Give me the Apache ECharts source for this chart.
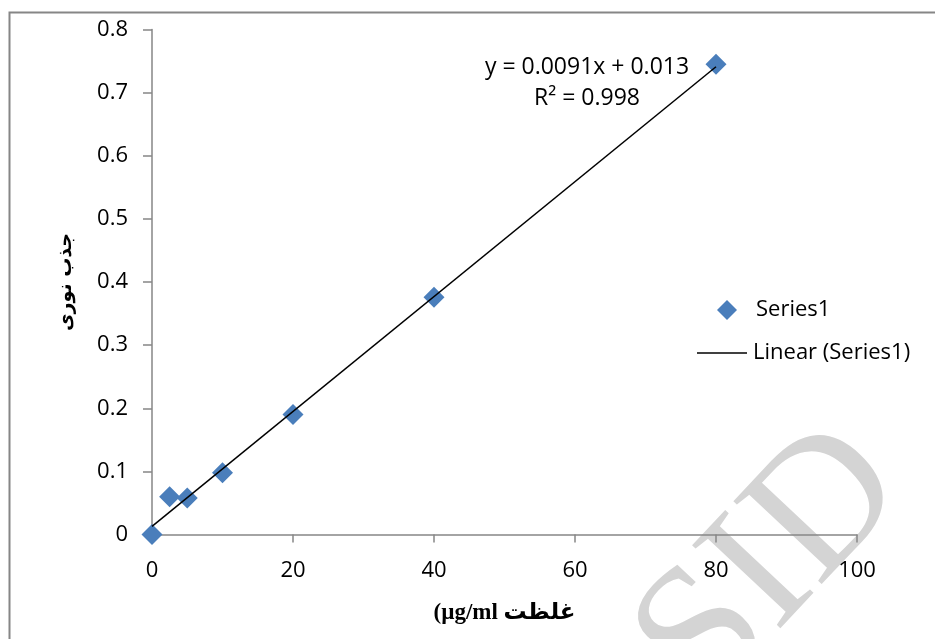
<!DOCTYPE html>
<html>
<head>
<meta charset="utf-8">
<script src="https://cdn.jsdelivr.net/npm/echarts@6/dist/echarts.min.js"></script>
<style>
  html, body { margin: 0; padding: 0; background: #fff; }
  #chart { width: 935px; height: 639px; }
</style>
</head>
<body>
<div id="chart"></div>
<script>
// Calibration points: concentration (µg/ml) vs absorbance
const concentration = [0, 2.5, 5, 10, 20, 40, 80];
const absorbance = [0, 0.06, 0.058, 0.098, 0.19, 0.376, 0.745];

// Linear trend line as reported on the chart
const slope = 0.0091;
const intercept = 0.013;
const rSquared = 0.998;
const trendRange = [0, 80];

const xTicks = { min: 0, max: 100, interval: 20 };
const yTicks = { min: 0, max: 0.8, interval: 0.1 };

const axisGray = '#868686';
const markerBlue = '#4A7EBB';
const labelFont = "'Open Sans', 'DejaVu Sans', sans-serif";

const points = concentration.map((x, i) => [x, absorbance[i]]);
const trendPoints = trendRange.map(x => [x, slope * x + intercept]);

const chart = echarts.init(document.getElementById('chart'), null, { renderer: 'canvas' });

chart.setOption({
  backgroundColor: '#ffffff',
  animation: false,
  grid: { left: 152, right: 78, top: 29.5, bottom: 104.5 },
  xAxis: {
    type: 'value',
    min: xTicks.min, max: xTicks.max, interval: xTicks.interval,
    // left-to-right mark keeps the opening parenthesis on the left
    name: '\u200E(µg/ml غلظت',
    nameLocation: 'middle',
    nameGap: 67,
    nameTextStyle: {
      fontFamily: "'Liberation Serif', 'DejaVu Sans', serif",
      fontWeight: 'bold', fontSize: 23, color: '#000'
    },
    axisLine: { show: true, lineStyle: { color: axisGray, width: 1.5 } },
    axisTick: { show: true, length: 8, lineStyle: { color: axisGray, width: 1.5 } },
    axisLabel: { fontFamily: labelFont, fontSize: 22, color: '#000', margin: 25 },
    splitLine: { show: false }
  },
  yAxis: {
    type: 'value',
    min: yTicks.min, max: yTicks.max, interval: yTicks.interval,
    name: 'جذب نوری',
    nameLocation: 'middle',
    nameGap: 76,
    nameTextStyle: {
      fontFamily: "'DejaVu Sans', sans-serif",
      fontWeight: 'bold', fontSize: 19, color: '#000'
    },
    axisLine: { show: true, lineStyle: { color: axisGray, width: 1.5 } },
    axisTick: { show: true, length: 9, lineStyle: { color: axisGray, width: 1.5 } },
    axisLabel: { fontFamily: labelFont, fontSize: 22, color: '#000', margin: 24 },
    splitLine: { show: false }
  },
  legend: [
    {
      data: [{ name: 'Series1', icon: 'diamond' }],
      left: 712, top: 294,
      itemWidth: 20, itemHeight: 20,
      textStyle: { fontFamily: labelFont, fontSize: 22, color: '#000', padding: [0, 0, 0, 14] },
      itemStyle: { color: markerBlue, opacity: 1 },
      selectedMode: false
    },
    {
      data: [{ name: 'Linear (Series1)', icon: 'path://M0,0H100V3H0Z' }],
      left: 692, top: 337,
      itemWidth: 52, itemHeight: 1.5,
      textStyle: { fontFamily: labelFont, fontSize: 22, color: '#000' },
      itemStyle: { color: '#000' },
      selectedMode: false
    }
  ],
  graphic: [
    {
      type: 'rect',
      z: -20,
      shape: { x: 9.5, y: 12.5, width: 960, height: 700 },
      style: { fill: 'none', stroke: axisGray, lineWidth: 2 },
      silent: true
    },
    {
      type: 'text',
      z: -10,
      x: 772, y: 566,
      rotation: Math.PI * 0.26,
      style: {
        text: 'SID',
        fill: '#d4d4d4',
        font: "185px 'Liberation Serif', serif",
        align: 'center',
        verticalAlign: 'middle'
      },
      silent: true
    },
    {
      type: 'text',
      x: 587, y: 67,
      style: {
        text: 'y = ' + slope + 'x + ' + intercept,
        fill: '#000',
        font: "23px " + labelFont,
        align: 'center', verticalAlign: 'middle'
      }
    },
    {
      type: 'text',
      x: 587, y: 98,
      style: {
        text: 'R² = ' + rSquared,
        fill: '#000',
        font: "23px " + labelFont,
        align: 'center', verticalAlign: 'middle'
      }
    }
  ],
  series: [
    {
      name: 'Series1',
      type: 'scatter',
      symbol: 'diamond',
      symbolSize: 21,
      itemStyle: { color: markerBlue, opacity: 1 },
      data: points,
      z: 3
    },
    {
      name: 'Linear (Series1)',
      type: 'line',
      data: trendPoints,
      symbol: 'none',
      lineStyle: { color: '#000', width: 1.5 },
      itemStyle: { color: '#000' },
      z: 4
    }
  ]
});
</script>
</body>
</html>
